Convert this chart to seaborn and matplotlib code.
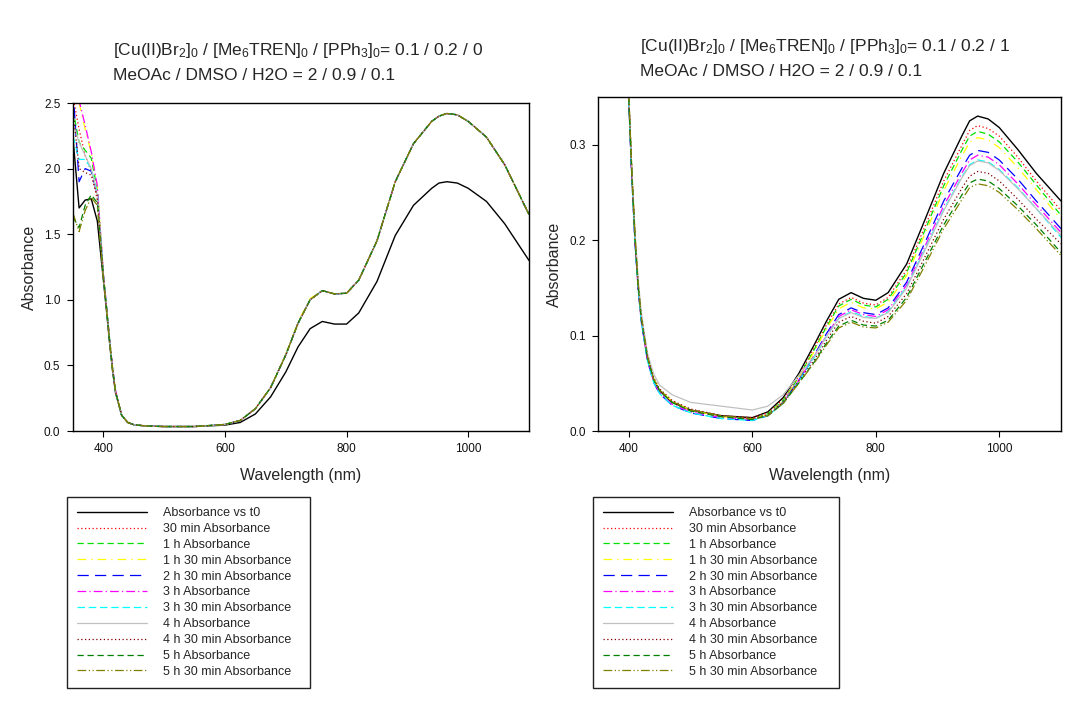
import matplotlib
matplotlib.use("Agg")
import matplotlib.pyplot as plt
import seaborn as sns
import pandas as pd

# ---------------- data ----------------
wavelength = [350, 360, 370, 380, 390, 400, 405, 410, 415, 420, 430, 440, 450, 470, 500, 550,
              600, 625, 650, 675, 700, 720, 740, 760, 780, 800, 820, 850, 880, 910, 940, 952, 965,
              982, 1000, 1030, 1060, 1100]

series_labels = ["Absorbance vs t0", "30 min Absorbance", "1 h Absorbance", "1 h 30 min Absorbance",
                 "2 h 30 min Absorbance", "3 h Absorbance", "3 h 30 min Absorbance", "4 h Absorbance",
                 "4 h 30 min Absorbance", "5 h Absorbance", "5 h 30 min Absorbance"]

# left panel: [PPh3]0 = 0
left_t0 = [2.23, 1.70, 1.76, 1.77, 1.60, 1.15, 0.92, 0.68, 0.46, 0.29, 0.12, 0.065, 0.048, 0.038, 0.034, 0.034,
           0.045, 0.065, 0.13, 0.26, 0.45, 0.64, 0.78, 0.835, 0.815, 0.815, 0.90, 1.14, 1.49, 1.72, 1.85, 1.89,
           1.90, 1.89, 1.85, 1.75, 1.58, 1.30]
left_30min = [2.55, 2.30, 2.10, 1.98, 1.76, 1.18, 0.95, 0.70, 0.48, 0.30, 0.12, 0.065, 0.048, 0.038, 0.034, 0.034,
              0.050, 0.080, 0.17, 0.33, 0.58, 0.82, 1.00, 1.07, 1.045, 1.05, 1.15, 1.45, 1.90, 2.19, 2.36, 2.40,
              2.42, 2.41, 2.36, 2.24, 2.03, 1.65]
left_1h = [2.45, 2.20, 2.14, 2.08, 1.84, 1.19, 0.95, 0.71, 0.48, 0.30, 0.12, 0.066, 0.048, 0.038, 0.034, 0.034,
           0.050, 0.081, 0.17, 0.33, 0.58, 0.82, 1.00, 1.07, 1.045, 1.05, 1.15, 1.45, 1.90, 2.19, 2.36, 2.40,
           2.42, 2.41, 2.36, 2.24, 2.03, 1.65]
left_1h30 = [2.65, 2.50, 2.30, 2.12, 1.86, 1.20, 0.96, 0.71, 0.49, 0.31, 0.12, 0.066, 0.049, 0.038, 0.034, 0.034,
             0.050, 0.080, 0.17, 0.33, 0.59, 0.83, 1.01, 1.07, 1.045, 1.05, 1.15, 1.45, 1.90, 2.19, 2.36, 2.40,
             2.42, 2.41, 2.36, 2.24, 2.03, 1.65]
left_2h30 = [2.60, 1.90, 2.00, 1.98, 1.80, 1.18, 0.95, 0.70, 0.48, 0.30, 0.12, 0.065, 0.048, 0.038, 0.034, 0.034,
             0.050, 0.080, 0.17, 0.33, 0.58, 0.82, 1.00, 1.07, 1.045, 1.05, 1.15, 1.45, 1.90, 2.19, 2.36, 2.40,
             2.42, 2.41, 2.36, 2.24, 2.03, 1.65]
left_3h = [2.65, 2.52, 2.33, 2.13, 1.87, 1.20, 0.96, 0.71, 0.49, 0.31, 0.12, 0.066, 0.048, 0.038, 0.034, 0.034,
           0.050, 0.080, 0.17, 0.33, 0.58, 0.82, 1.00, 1.07, 1.045, 1.05, 1.15, 1.45, 1.90, 2.19, 2.36, 2.40,
           2.42, 2.41, 2.36, 2.24, 2.03, 1.65]
left_3h30 = [2.25, 2.07, 2.07, 2.00, 1.82, 1.18, 0.95, 0.70, 0.48, 0.30, 0.12, 0.065, 0.048, 0.038, 0.034, 0.034,
             0.050, 0.080, 0.17, 0.33, 0.58, 0.82, 1.00, 1.07, 1.045, 1.05, 1.15, 1.45, 1.90, 2.19, 2.36, 2.40,
             2.42, 2.41, 2.36, 2.24, 2.03, 1.65]
left_4h = [2.35, 2.20, 2.10, 2.00, 1.80, 1.18, 0.95, 0.70, 0.48, 0.30, 0.12, 0.065, 0.048, 0.038, 0.034, 0.034,
           0.050, 0.080, 0.17, 0.33, 0.58, 0.82, 1.00, 1.07, 1.045, 1.05, 1.15, 1.45, 1.90, 2.19, 2.36, 2.40,
           2.42, 2.41, 2.36, 2.24, 2.03, 1.65]
left_4h30 = [2.45, 2.00, 1.97, 1.95, 1.79, 1.17, 0.94, 0.70, 0.48, 0.30, 0.12, 0.065, 0.048, 0.038, 0.034, 0.034,
             0.050, 0.080, 0.17, 0.33, 0.58, 0.82, 1.00, 1.07, 1.045, 1.05, 1.15, 1.45, 1.90, 2.19, 2.36, 2.40,
             2.42, 2.41, 2.36, 2.24, 2.03, 1.65]
left_5h = [1.63, 1.55, 1.72, 1.80, 1.74, 1.17, 0.94, 0.69, 0.47, 0.30, 0.12, 0.065, 0.048, 0.038, 0.034, 0.034,
           0.050, 0.080, 0.17, 0.33, 0.58, 0.82, 1.00, 1.07, 1.045, 1.05, 1.15, 1.45, 1.90, 2.19, 2.36, 2.40,
           2.42, 2.41, 2.36, 2.24, 2.03, 1.65]
left_5h30 = [1.66, 1.52, 1.68, 1.78, 1.72, 1.16, 0.94, 0.69, 0.47, 0.30, 0.12, 0.065, 0.048, 0.038, 0.034, 0.034,
             0.050, 0.080, 0.17, 0.33, 0.58, 0.82, 1.00, 1.07, 1.045, 1.05, 1.15, 1.45, 1.90, 2.19, 2.36, 2.40,
             2.42, 2.41, 2.36, 2.24, 2.03, 1.65]

# right panel: [PPh3]0 = 1
right_t0 = [1.20, 1.05, 0.90, 0.75, 0.55, 0.345, 0.265, 0.200, 0.152, 0.118, 0.076, 0.054, 0.042, 0.030, 0.022, 0.016,
            0.014, 0.020, 0.035, 0.060, 0.090, 0.115, 0.138, 0.145, 0.139, 0.137, 0.145, 0.175, 0.222, 0.270, 0.310, 0.325,
            0.330, 0.327, 0.318, 0.295, 0.270, 0.241]
right_30min = [1.20, 1.05, 0.90, 0.75, 0.55, 0.350, 0.270, 0.205, 0.155, 0.120, 0.078, 0.055, 0.043, 0.031, 0.022, 0.016,
               0.014, 0.019, 0.033, 0.057, 0.087, 0.111, 0.133, 0.140, 0.134, 0.132, 0.140, 0.169, 0.215, 0.262, 0.300, 0.315,
               0.320, 0.317, 0.309, 0.287, 0.262, 0.231]
right_1h = [1.20, 1.05, 0.90, 0.75, 0.55, 0.348, 0.268, 0.203, 0.154, 0.119, 0.077, 0.054, 0.042, 0.030, 0.021, 0.015,
            0.012, 0.018, 0.032, 0.056, 0.085, 0.109, 0.131, 0.138, 0.132, 0.130, 0.138, 0.166, 0.211, 0.257, 0.295, 0.309,
            0.314, 0.311, 0.303, 0.282, 0.258, 0.226]
right_1h30 = [1.20, 1.05, 0.90, 0.75, 0.55, 0.350, 0.270, 0.205, 0.155, 0.120, 0.078, 0.055, 0.043, 0.031, 0.022, 0.015,
              0.012, 0.017, 0.031, 0.055, 0.083, 0.107, 0.128, 0.135, 0.129, 0.128, 0.135, 0.163, 0.207, 0.252, 0.289, 0.3025,
              0.3075, 0.305, 0.297, 0.276, 0.253, 0.222]
right_2h30 = [1.20, 1.05, 0.90, 0.75, 0.55, 0.342, 0.262, 0.197, 0.149, 0.115, 0.074, 0.051, 0.039, 0.027, 0.019, 0.013,
              0.011, 0.016, 0.030, 0.053, 0.079, 0.102, 0.122, 0.129, 0.124, 0.122, 0.129, 0.156, 0.198, 0.241, 0.276, 0.289,
              0.294, 0.292, 0.284, 0.264, 0.241, 0.212]
right_3h = [1.20, 1.05, 0.90, 0.75, 0.55, 0.344, 0.264, 0.198, 0.150, 0.116, 0.075, 0.052, 0.040, 0.028, 0.020, 0.014,
            0.012, 0.016, 0.030, 0.053, 0.078, 0.100, 0.120, 0.127, 0.122, 0.120, 0.127, 0.153, 0.194, 0.236, 0.271, 0.284,
            0.289, 0.287, 0.279, 0.259, 0.237, 0.208]
right_3h30 = [1.20, 1.05, 0.90, 0.75, 0.55, 0.342, 0.262, 0.197, 0.149, 0.115, 0.074, 0.051, 0.039, 0.027, 0.019, 0.013,
              0.011, 0.016, 0.029, 0.052, 0.077, 0.099, 0.118, 0.125, 0.120, 0.118, 0.125, 0.151, 0.191, 0.232, 0.267, 0.279,
              0.284, 0.282, 0.274, 0.255, 0.233, 0.203]
right_4h = [1.20, 1.05, 0.90, 0.75, 0.55, 0.350, 0.272, 0.208, 0.160, 0.125, 0.082, 0.060, 0.048, 0.038, 0.030, 0.026,
            0.022, 0.026, 0.038, 0.058, 0.078, 0.099, 0.118, 0.124, 0.119, 0.118, 0.124, 0.150, 0.190, 0.231, 0.266, 0.278,
            0.283, 0.281, 0.273, 0.254, 0.233, 0.205]
right_4h30 = [1.20, 1.05, 0.90, 0.75, 0.55, 0.348, 0.268, 0.203, 0.154, 0.120, 0.079, 0.056, 0.044, 0.032, 0.023, 0.016,
              0.013, 0.017, 0.030, 0.052, 0.074, 0.095, 0.114, 0.120, 0.115, 0.113, 0.120, 0.144, 0.183, 0.222, 0.255, 0.267,
              0.272, 0.270, 0.262, 0.243, 0.222, 0.196]
right_5h = [1.20, 1.05, 0.90, 0.75, 0.55, 0.346, 0.266, 0.201, 0.152, 0.118, 0.077, 0.054, 0.042, 0.030, 0.021, 0.015,
            0.012, 0.016, 0.029, 0.050, 0.072, 0.092, 0.110, 0.116, 0.111, 0.110, 0.116, 0.140, 0.178, 0.216, 0.248, 0.260,
            0.264, 0.262, 0.254, 0.236, 0.216, 0.187]
right_5h30 = [1.20, 1.05, 0.90, 0.75, 0.55, 0.348, 0.268, 0.203, 0.154, 0.120, 0.078, 0.055, 0.043, 0.031, 0.022, 0.016,
              0.013, 0.016, 0.029, 0.050, 0.071, 0.090, 0.108, 0.114, 0.109, 0.108, 0.114, 0.137, 0.174, 0.212, 0.243, 0.255,
              0.259, 0.257, 0.250, 0.232, 0.212, 0.184]

left_series = [left_t0, left_30min, left_1h, left_1h30, left_2h30, left_3h, left_3h30, left_4h,
               left_4h30, left_5h, left_5h30]
right_series = [right_t0, right_30min, right_1h, right_1h30, right_2h30, right_3h, right_3h30, right_4h,
                right_4h30, right_5h, right_5h30]

left_title = [r"[Cu(II)Br$_2$]$_0$ / [Me$_6$TREN]$_0$ / [PPh$_3$]$_0$= 0.1 / 0.2 / 0",
              "MeOAc / DMSO / H2O = 2 / 0.9 / 0.1"]
right_title = [r"[Cu(II)Br$_2$]$_0$ / [Me$_6$TREN]$_0$ / [PPh$_3$]$_0$= 0.1 / 0.2 / 1",
               "MeOAc / DMSO / H2O = 2 / 0.9 / 0.1"]

# ---------------- style ----------------
colors = ["#000000", "#ff0000", "#00e000", "#ffff00", "#0000ff", "#ff00ff", "#00ffff",
          "#c0c0c0", "#800000", "#008000", "#808000"]
styles = ["-", (0, (1, 2)), (0, (5, 3)), (0, (7, 4, 1, 4)), (0, (9, 5)), (0, (7, 2.5, 1, 2.5)),
          (0, (6, 3)), "-", (0, (1, 2)), (0, (5, 3)), (0, (7, 2, 1, 2, 1, 2))]
widths = [1.0, 0.9, 0.9, 0.9, 0.9, 0.9, 0.9, 0.9, 0.9, 0.9, 0.9]

sns.set_theme(style="white")
plt.rcParams["font.family"] = ["Liberation Sans", "DejaVu Sans"]
plt.rcParams["mathtext.fontset"] = "custom"
plt.rcParams["mathtext.rm"] = "Liberation Sans"
plt.rcParams["mathtext.it"] = "Liberation Sans:italic"
plt.rcParams["mathtext.bf"] = "Liberation Sans:bold"
plt.rcParams["mathtext.default"] = "regular"

W, H = 1076, 704
fig = plt.figure(figsize=(W / 100, H / 100), dpi=100)
fig.patch.set_facecolor("white")

axL = fig.add_axes([73 / W, 1 - 431 / H, 456 / W, 328 / H])
axR = fig.add_axes([598 / W, 1 - 431 / H, 463 / W, 334 / H])


def draw(ax, series_list, ylim, yticks):
    for vals, lab, c, ls, lw in zip(series_list, series_labels, colors, styles, widths):
        df = pd.DataFrame({"Wavelength": wavelength, "Absorbance": vals})
        sns.lineplot(data=df, x="Wavelength", y="Absorbance", ax=ax, color=c,
                     linestyle=ls, linewidth=lw, label=lab, legend=False)
    ax.set_xlim(350, 1100)
    ax.set_ylim(*ylim)
    ax.set_xticks([400, 600, 800, 1000])
    ax.set_yticks(yticks)
    ax.set_yticklabels([f"{t:.1f}" for t in yticks])
    ax.set_facecolor("white")
    for sp in ax.spines.values():
        sp.set_visible(True)
        sp.set_color("black")
        sp.set_linewidth(1.0)
    ax.tick_params(axis="both", which="major", direction="out", length=4, width=0.8,
                   color="black", labelsize=8.5, labelcolor="#111111", pad=5,
                   bottom=True, left=True, top=False, right=False)
    ax.set_xlabel("Wavelength (nm)", fontsize=11.5, labelpad=9)
    ax.set_ylabel("Absorbance", fontsize=11.5, labelpad=5)
    ax.grid(False)


draw(axL, left_series, (0, 2.5), [0.0, 0.5, 1.0, 1.5, 2.0, 2.5])
draw(axR, right_series, (0, 0.35), [0.0, 0.1, 0.2, 0.3])

fig.text(113 / W, 1 - 51 / H, left_title[0], fontsize=12.5, ha="left", va="center")
fig.text(113 / W, 1 - 76 / H, left_title[1], fontsize=12.5, ha="left", va="center")
fig.text(640 / W, 1 - 46 / H, right_title[0], fontsize=12.5, ha="left", va="center")
fig.text(640 / W, 1 - 71 / H, right_title[1], fontsize=12.5, ha="left", va="center")


def add_legend(ax, x0, y_top, width, height):
    handles = ax.get_lines()[:len(series_labels)]
    leg = fig.legend(handles, series_labels, loc="upper left",
                     bbox_to_anchor=(x0 / W, 1 - (y_top + height) / H, width / W, height / H),
                     mode="expand", fontsize=9, frameon=True, fancybox=False, shadow=False,
                     borderpad=0.8, labelspacing=0.31, handlelength=5.6, handletextpad=1.3,
                     borderaxespad=0.0)
    fr = leg.get_frame()
    fr.set_edgecolor("#222222")
    fr.set_linewidth(1.0)
    fr.set_facecolor("white")
    fr.set_alpha(1)
    return leg


add_legend(axL, 67, 497, 243, 192)
add_legend(axR, 593, 497, 246, 194)

fig.savefig("out.png", dpi=100, facecolor="white")
